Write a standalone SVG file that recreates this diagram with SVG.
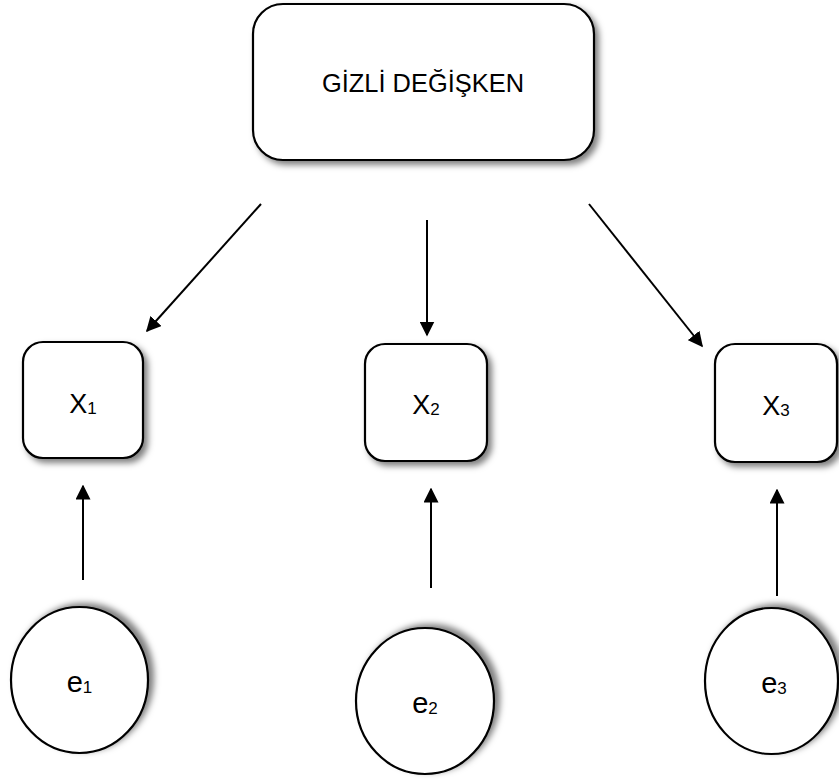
<svg xmlns="http://www.w3.org/2000/svg" width="839" height="780" viewBox="0 0 839 780">
  <style>
    .box { fill: #ffffff; stroke: #000000; stroke-width: 2.2; }
    .lbl { font-family: "Liberation Sans", Arial, sans-serif; font-size: 25px; fill: #000000; text-anchor: middle; }
    .var { font-size: 27px; }
    .err { font-size: 29px; }
    .sub { font-size: 17px; }
    .edge { stroke: #000000; stroke-width: 2; fill: none; marker-end: url(#arrow); }
  </style>
  <defs>
    <filter id="shadowBox" x="-20%" y="-20%" width="140%" height="140%">
      <feDropShadow dx="4" dy="4" stdDeviation="3" flood-color="#000000" flood-opacity="0.5"/>
    </filter>
    <filter id="shadowCircle" x="-20%" y="-20%" width="140%" height="140%">
      <feDropShadow dx="5" dy="-3" stdDeviation="3" flood-color="#000000" flood-opacity="0.5"/>
    </filter>
    <marker id="arrow" viewBox="0 0 10 10" refX="9" refY="5" markerWidth="7.5" markerHeight="7.5" markerUnits="strokeWidth" orient="auto">
      <path d="M0,0 L10,5 L0,10 z" fill="#000000"/>
    </marker>
  </defs>

  <!-- latent variable -->
  <g id="latent">
    <rect class="box" x="253" y="4" width="341" height="156" rx="30" ry="30" filter="url(#shadowBox)"/>
    <text class="lbl" x="423" y="92" textLength="202" lengthAdjust="spacingAndGlyphs">GİZLİ DEĞİŞKEN</text>
  </g>

  <!-- observed indicators -->
  <g id="x1">
    <rect class="box" x="23" y="342" width="120" height="116" rx="20" ry="20" filter="url(#shadowBox)"/>
    <text class="lbl var" x="83" y="413">X<tspan class="sub" dy="1">1</tspan></text>
  </g>
  <g id="x2">
    <rect class="box" x="365" y="344" width="122" height="117" rx="20" ry="20" filter="url(#shadowBox)"/>
    <text class="lbl var" x="426" y="414">X<tspan class="sub" dy="1">2</tspan></text>
  </g>
  <g id="x3">
    <rect class="box" x="715" y="344" width="122" height="118" rx="20" ry="20" filter="url(#shadowBox)"/>
    <text class="lbl var" x="776" y="415">X<tspan class="sub" dy="1">3</tspan></text>
  </g>

  <!-- error terms -->
  <g id="e1">
    <ellipse class="box" cx="79.5" cy="680" rx="68.5" ry="73" filter="url(#shadowCircle)"/>
    <text class="lbl err" x="79.5" y="692">e<tspan class="sub" dy="1">1</tspan></text>
  </g>
  <g id="e2">
    <ellipse class="box" cx="425" cy="701" rx="69" ry="73" filter="url(#shadowCircle)"/>
    <text class="lbl err" x="425" y="713">e<tspan class="sub" dy="1">2</tspan></text>
  </g>
  <g id="e3">
    <ellipse class="box" cx="771.5" cy="681" rx="66.5" ry="73" filter="url(#shadowCircle)"/>
    <text class="lbl err" x="774" y="693">e<tspan class="sub" dy="1">3</tspan></text>
  </g>

  <!-- connectors -->
  <g id="connectors">
    <line class="edge" x1="261" y1="204" x2="147" y2="331"/>
    <line class="edge" x1="427" y1="220" x2="427" y2="335"/>
    <line class="edge" x1="589" y1="204" x2="702" y2="346"/>
    <line class="edge" x1="83" y1="580" x2="83" y2="486"/>
    <line class="edge" x1="431" y1="588" x2="431" y2="489"/>
    <line class="edge" x1="777" y1="596" x2="777" y2="490"/>
  </g>
</svg>
